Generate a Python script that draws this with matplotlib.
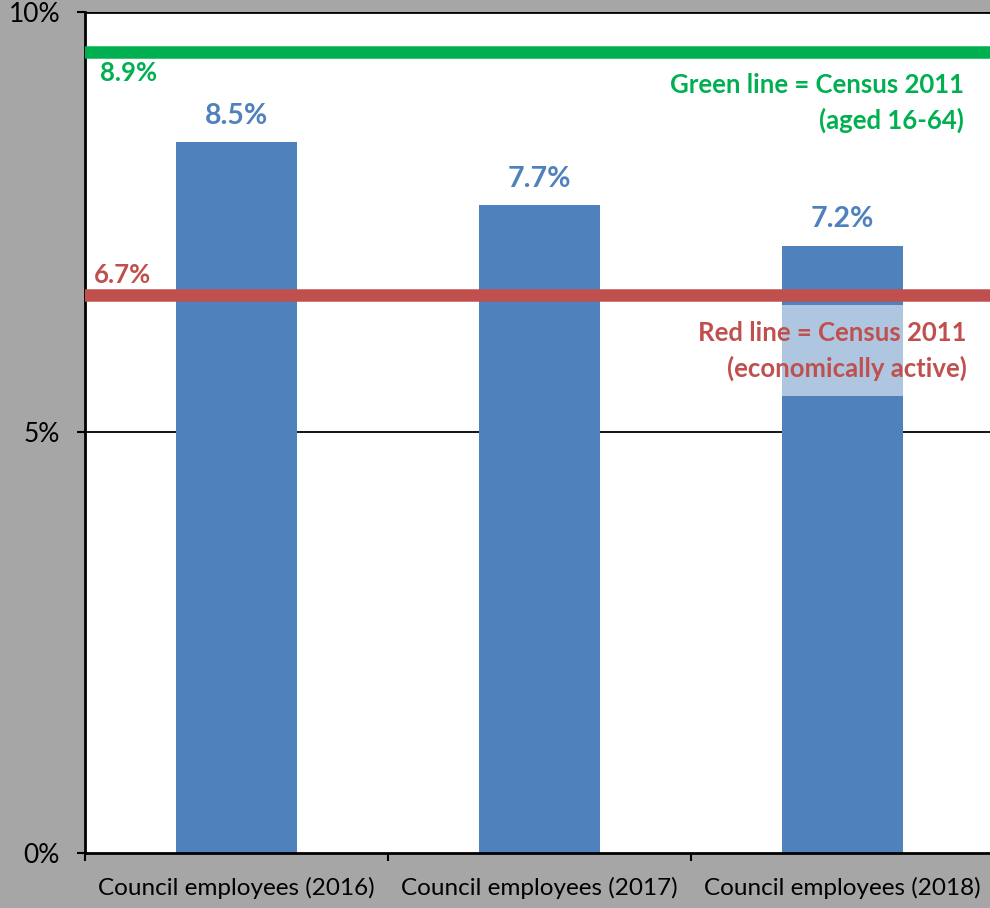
"""Council employees vs Census 2011 — bar chart with two reference lines."""
import numpy as np
import matplotlib; matplotlib.use("Agg")
import matplotlib.pyplot as plt

plt.rcParams.update({"font.family": ["Lato", "DejaVu Sans"]})

BG, BAR = "#A6A6A6", "#4F81BD"
GREEN, RED = "#00B050", "#C0504D"

categories = ["Council employees (2016)", "Council employees (2017)", "Council employees (2018)"]
values = [8.45, 7.7, 7.22]
value_labels = ["8.5%", "7.7%", "7.2%"]
green_level, green_label = 9.52, "8.9%"      # line sits a bit above its label value in the source
red_level, red_label = 6.63, "6.7%"
yticks = [0, 5, 10]
yticklabels = ["0%", "5%", "10%"]

fig = plt.figure(figsize=(9.9, 9.08), dpi=100, facecolor=BG)
ax = fig.add_axes([0.0859, 0.0606, 0.918, 0.9262])
ax.set_facecolor("white")

x = np.arange(len(categories))
ax.bar(x, values, width=0.4, color=BAR, zorder=2)
for xi, v, lbl in zip(x, values, value_labels):
    ax.text(xi, v + 0.16, lbl, ha="center", va="bottom", fontsize=20.5, fontweight="bold", color=BAR)

# reference lines
ax.axhline(green_level, xmin=0.004, color=GREEN, lw=9, zorder=3)
ax.axhline(red_level, xmin=0.004, color=RED, lw=9, zorder=3)
ax.text(-0.45, green_level - 0.1, green_label, ha="left", va="top", fontsize=18.5,
        fontweight="bold", color=GREEN)
ax.text(-0.47, red_level + 0.1, red_label, ha="left", va="bottom", fontsize=18.5,
        fontweight="bold", color=RED)
ax.text(2.40, green_level - 0.25, "Green line = Census 2011\n(aged 16-64)", ha="right", va="top",
        fontsize=18.5, fontweight="bold", color=GREEN, linespacing=1.5, zorder=4)
ax.text(2.41, red_level - 0.3, "Red line = Census 2011\n(economically active)", ha="right", va="top",
        fontsize=18.5, fontweight="bold", color=RED, linespacing=1.5, zorder=2.5,
        bbox=dict(facecolor="white", alpha=0.55, edgecolor="none", boxstyle="square,pad=0.6"))

# gridlines
ax.axhline(5, color="black", lw=1.3, zorder=1)
ax.axhline(10, color="black", lw=2, zorder=1)

ax.set_xlim(-0.5, 2.5)
ax.set_ylim(0, 10)
ax.set_yticks(yticks)
ax.set_yticklabels(yticklabels, fontsize=19)
ax.set_xticks(x)
ax.set_xticklabels(categories, fontsize=17.5)
ax.set_xticks([-0.5, 0.5, 1.5, 2.5], minor=True)
ax.tick_params(axis="x", which="major", length=0, pad=17)
ax.tick_params(axis="x", which="minor", length=6, width=1.5, direction="out")
ax.tick_params(axis="y", length=6, width=1.5, direction="out", pad=12)
for s in ["top", "right"]:
    ax.spines[s].set_visible(False)
ax.spines["left"].set_linewidth(2)
ax.spines["bottom"].set_linewidth(2)

fig.savefig("out.png", dpi=100, facecolor=BG)
